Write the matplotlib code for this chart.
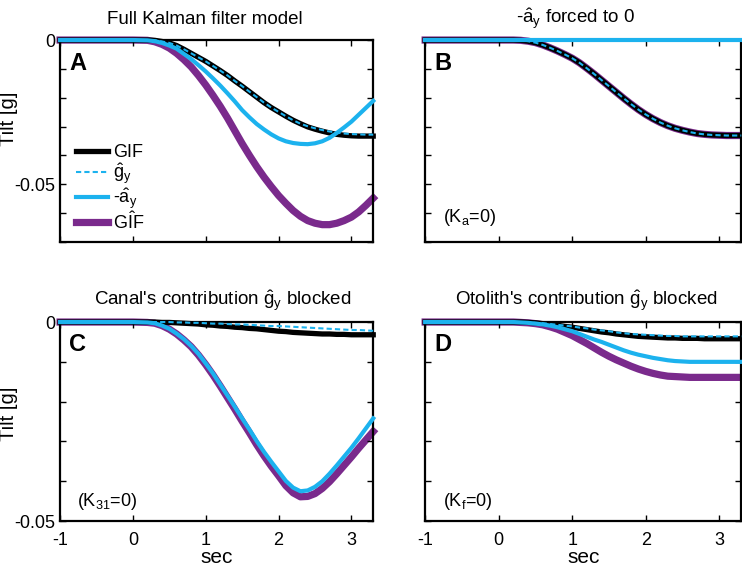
import numpy as np
import matplotlib
matplotlib.use("Agg")
import matplotlib.pyplot as plt

plt.rcParams['font.family'] = ['Liberation Sans', 'DejaVu Sans']
plt.rcParams['mathtext.fontset'] = 'custom'
plt.rcParams['mathtext.rm'] = 'Liberation Sans'
plt.rcParams['mathtext.it'] = 'Liberation Sans'
plt.rcParams['mathtext.default'] = 'regular'

# time axis (sec): flat before motion, then 0.1 s samples
t = [-1, 0, 0.2, 0.3, 0.4, 0.5, 0.6, 0.7, 0.8, 0.9, 1.0, 1.1, 1.2, 1.3, 1.4, 1.5, 1.6, 1.7,
     1.8, 1.9, 2.0, 2.1, 2.2, 2.3, 2.4, 2.5, 2.6, 2.7, 2.8, 2.9, 3.0, 3.1, 3.2, 3.3]

# panel A - full Kalman filter model
gif_A = [0, 0, 0, -0.0001, -0.0005, -0.001, -0.0019, -0.0032, -0.0046, -0.006, -0.0074, -0.009, -0.0106,
         -0.0123, -0.0142, -0.016, -0.0179, -0.0198, -0.0217, -0.0234, -0.0249, -0.0264, -0.0278, -0.029,
         -0.0301, -0.0309, -0.0316, -0.0322, -0.0327, -0.033, -0.0332, -0.0333, -0.0333, -0.0333]
gy_A = [0, 0, 0, -0.0001, -0.0005, -0.001, -0.0019, -0.0032, -0.0046, -0.006, -0.0074, -0.009, -0.0106,
        -0.0123, -0.0142, -0.016, -0.0179, -0.0198, -0.0217, -0.0234, -0.0249, -0.0264, -0.0278, -0.029,
        -0.0299, -0.0306, -0.0312, -0.0317, -0.0321, -0.0324, -0.0326, -0.0327, -0.0328, -0.0328]
ay_A = [0, 0, -0.0001, -0.0004, -0.001, -0.0019, -0.003, -0.0048, -0.0066, -0.0087, -0.0109, -0.0133, -0.0158,
        -0.0185, -0.0213, -0.0243, -0.0268, -0.0291, -0.031, -0.0327, -0.0341, -0.0351, -0.0357, -0.036,
        -0.0361, -0.0358, -0.0351, -0.0339, -0.0322, -0.0303, -0.0283, -0.0259, -0.0235, -0.0211]
gifhat_A = [0, 0, -0.0001, -0.0006, -0.0015, -0.0028, -0.0046, -0.0068, -0.0093, -0.0123, -0.0156, -0.0192,
            -0.023, -0.0271, -0.0315, -0.0359, -0.04, -0.0439, -0.0475, -0.0508, -0.0539, -0.0566, -0.0591,
            -0.0611, -0.0626, -0.0635, -0.064, -0.064, -0.0635, -0.0626, -0.0614, -0.0596, -0.0573, -0.0548]

# panel B - a_y forced to 0
gif_B = [0, 0, 0, -0.0001, -0.0004, -0.0009, -0.0017, -0.0027, -0.0038, -0.005, -0.0063, -0.0079, -0.0098,
         -0.0118, -0.0139, -0.016, -0.0181, -0.0202, -0.0222, -0.0241, -0.0258, -0.0273, -0.0286, -0.0297,
         -0.0306, -0.0313, -0.0319, -0.0324, -0.0327, -0.0329, -0.033, -0.0331, -0.0331, -0.0331]
gy_B = [0, 0, 0, -0.0001, -0.0004, -0.0009, -0.0017, -0.0027, -0.0038, -0.005, -0.0063, -0.0079, -0.0098,
        -0.0118, -0.0139, -0.016, -0.0181, -0.0202, -0.0222, -0.0241, -0.0258, -0.0273, -0.0286, -0.0297,
        -0.0306, -0.0313, -0.0319, -0.0324, -0.0327, -0.0329, -0.033, -0.0331, -0.0331, -0.0331]
ay_B = [0] * 34
gifhat_B = [0, 0, 0, -0.0001, -0.0004, -0.0009, -0.0017, -0.0027, -0.0038, -0.005, -0.0063, -0.0079, -0.0098,
            -0.0118, -0.0139, -0.016, -0.0181, -0.0202, -0.0222, -0.0241, -0.0258, -0.0273, -0.0286, -0.0297,
            -0.0306, -0.0313, -0.0319, -0.0324, -0.0327, -0.0329, -0.033, -0.0331, -0.0331, -0.0331]

# panel C - canal's contribution blocked
gif_C = [0, 0, 0, 0, -0.0001, -0.0001, -0.0002, -0.0003, -0.0004, -0.0005, -0.0007, -0.0008, -0.001,
         -0.0011, -0.0013, -0.0014, -0.0016, -0.0017, -0.0019, -0.0021, -0.0023, -0.0024, -0.0026, -0.0027,
         -0.0028, -0.0029, -0.003, -0.003, -0.0031, -0.0031, -0.0032, -0.0032, -0.0032, -0.0032]
gy_C = [0, 0, 0, 0, 0, 0, -0.0001, -0.0001, -0.0002, -0.0002, -0.0003, -0.0004, -0.0004, -0.0005, -0.0006,
        -0.0006, -0.0007, -0.0008, -0.0009, -0.001, -0.001, -0.0011, -0.0012, -0.0013, -0.0014, -0.0015,
        -0.0016, -0.0017, -0.0018, -0.0019, -0.002, -0.002, -0.0021, -0.0022]
ay_C = [0, 0, -0.0001, -0.0003, -0.0009, -0.0017, -0.0029, -0.0043, -0.006, -0.008, -0.0104, -0.0129, -0.0157,
        -0.0185, -0.0213, -0.0242, -0.027, -0.0299, -0.0326, -0.0351, -0.0375, -0.0399, -0.0416, -0.0425,
        -0.0423, -0.0414, -0.04, -0.0381, -0.036, -0.0338, -0.0316, -0.0292, -0.0267, -0.0242]
gifhat_C = [0, 0, -0.0001, -0.0003, -0.0009, -0.0018, -0.003, -0.0045, -0.0062, -0.0083, -0.0107, -0.0133,
            -0.0161, -0.019, -0.0219, -0.0249, -0.0278, -0.0308, -0.0336, -0.0362, -0.0386, -0.0411, -0.0429,
            -0.0439, -0.0438, -0.0431, -0.0418, -0.0401, -0.0381, -0.036, -0.0339, -0.0317, -0.0296, -0.0275]

# panel D - otolith's contribution blocked
gif_D = [0, 0, 0, 0, -0.0001, -0.0002, -0.0004, -0.0006, -0.0008, -0.0011, -0.0013, -0.0016, -0.0019,
         -0.0022, -0.0025, -0.0027, -0.003, -0.0032, -0.0034, -0.0036, -0.0037, -0.0038, -0.0039, -0.004,
         -0.004, -0.0041, -0.0041, -0.0041, -0.0042, -0.0042, -0.0042, -0.0042, -0.0042, -0.0042]
gy_D = [0, 0, 0, 0, -0.0001, -0.0002, -0.0003, -0.0005, -0.0007, -0.0009, -0.0011, -0.0014, -0.0016,
        -0.0019, -0.0021, -0.0023, -0.0026, -0.0028, -0.003, -0.0031, -0.0032, -0.0033, -0.0034, -0.0035,
        -0.0035, -0.0036, -0.0036, -0.0036, -0.0036, -0.0036, -0.0036, -0.0036, -0.0036, -0.0036]
ay_D = [0, 0, 0, -0.0001, -0.0002, -0.0004, -0.0006, -0.0009, -0.0013, -0.0018, -0.0023, -0.003, -0.0037,
        -0.0044, -0.005, -0.0057, -0.0064, -0.0071, -0.0077, -0.0082, -0.0086, -0.009, -0.0093, -0.0096,
        -0.0098, -0.0099, -0.01, -0.01, -0.01, -0.01, -0.01, -0.01, -0.01, -0.01]
gifhat_D = [0, 0, 0, -0.0001, -0.0002, -0.0004, -0.0007, -0.0012, -0.0018, -0.0026, -0.0034, -0.0044, -0.0054,
            -0.0065, -0.0076, -0.0086, -0.0095, -0.0103, -0.0111, -0.0118, -0.0124, -0.0129, -0.0133,
            -0.0136, -0.0137, -0.0138, -0.0139, -0.0139, -0.0139, -0.0139, -0.0139, -0.0139, -0.0139, -0.0139]

BLACK = 'black'
CYAN = '#1cb2ee'
PURPLE = '#7a2a8c'

fig = plt.figure(figsize=(7.42, 5.72), dpi=100)

axA = fig.add_axes([0.081, 0.577, 0.422, 0.353])
axB = fig.add_axes([0.573, 0.577, 0.426, 0.353])
axC = fig.add_axes([0.081, 0.089, 0.422, 0.348])
axD = fig.add_axes([0.573, 0.089, 0.426, 0.348])


def draw(ax, gif, gy, ay, gifhat):
   ax.plot(t, gifhat, color=PURPLE, lw=5.2, zorder=1, label=r'$\hat{GIF}$')
   ax.plot(t, gif, color=BLACK, lw=3.8, zorder=2, label='GIF')
   ax.plot(t, ay, color=CYAN, lw=3.0, zorder=3, label=r'-$\hat{a}_y$')
   ax.plot(t, gy, color=CYAN, lw=1.5, ls=(0, (2.5, 1.5)), zorder=4, label=r'$\hat{g}_y$')


def style(ax, ymin, xlab, ylab, ylab_y=0.5):
   ax.set_xlim(-1, 3.3)
   ax.set_ylim(ymin, 0)
   ax.set_xticks([-1, 0, 1, 2, 3])
   yt = np.arange(0, ymin - 0.001, -0.01)
   ax.set_yticks(yt)
   ax.tick_params(direction='in', top=True, right=True, length=4, width=1, labelsize=13)
   ax.tick_params(axis='x', pad=8)
   for s in ax.spines.values():
      s.set_linewidth(1.6)
   if xlab:
      ax.set_xticklabels(['-1', '0', '1', '2', '3'])
      ax.set_xlabel('sec', fontsize=15, labelpad=-1)
   else:
      ax.set_xticklabels([])
   if ylab:
      ax.set_yticklabels(['0' if abs(v) < 1e-9 else ('-0.05' if abs(v + 0.05) < 1e-9 else '') for v in yt])
      ax.set_ylabel('Tilt [g]', fontsize=14.5)
      ax.yaxis.set_label_coords(-0.135, ylab_y)
   else:
      ax.set_yticklabels([])
   for ln in ax.get_lines():
      ln.set_clip_on(False)


draw(axA, gif_A, gy_A, ay_A, gifhat_A)
draw(axB, gif_B, gy_B, ay_B, gifhat_B)
draw(axC, gif_C, gy_C, ay_C, gifhat_C)
draw(axD, gif_D, gy_D, ay_D, gifhat_D)

style(axA, -0.07, False, True, 0.61)
style(axB, -0.07, False, False)
style(axC, -0.05, True, True, 0.54)
style(axD, -0.05, True, False)

axA.set_title('Full Kalman filter model', fontsize=13.5, pad=11.5, x=0.463)
axB.set_title(r'-$\hat{a}_y$ forced to 0', fontsize=13.5, pad=11.5, x=0.475)
axC.set_title(r"Canal's contribution $\hat{g}_y$ blocked", fontsize=13.5, pad=11.5, x=0.518)
axD.set_title(r"Otolith's contribution $\hat{g}_y$ blocked", fontsize=13.5, pad=11.5, x=0.51)

for ax, letter in zip([axA, axB, axC, axD], ['A', 'B', 'C', 'D']):
   ax.text(0.03, 0.885, letter, transform=ax.transAxes, fontsize=17, fontweight='bold', va='center', ha='left')

axB.text(0.055, 0.12, r'($K_a$=0)', transform=axB.transAxes, fontsize=13, va='center')
axC.text(0.055, 0.10, r'($K_{31}$=0)', transform=axC.transAxes, fontsize=13, va='center')
axD.text(0.055, 0.10, r'($K_f$=0)', transform=axD.transAxes, fontsize=13, va='center')

h, l = axA.get_legend_handles_labels()
order = [1, 3, 2, 0]
axA.legend([h[i] for i in order], [l[i] for i in order], loc='upper left',
           bbox_to_anchor=(0.05, 0.485), frameon=False, fontsize=13,
           handlelength=1.8, handletextpad=0.25, labelspacing=0.0,
           borderpad=0, borderaxespad=0)

fig.savefig('out.png', dpi=100)
